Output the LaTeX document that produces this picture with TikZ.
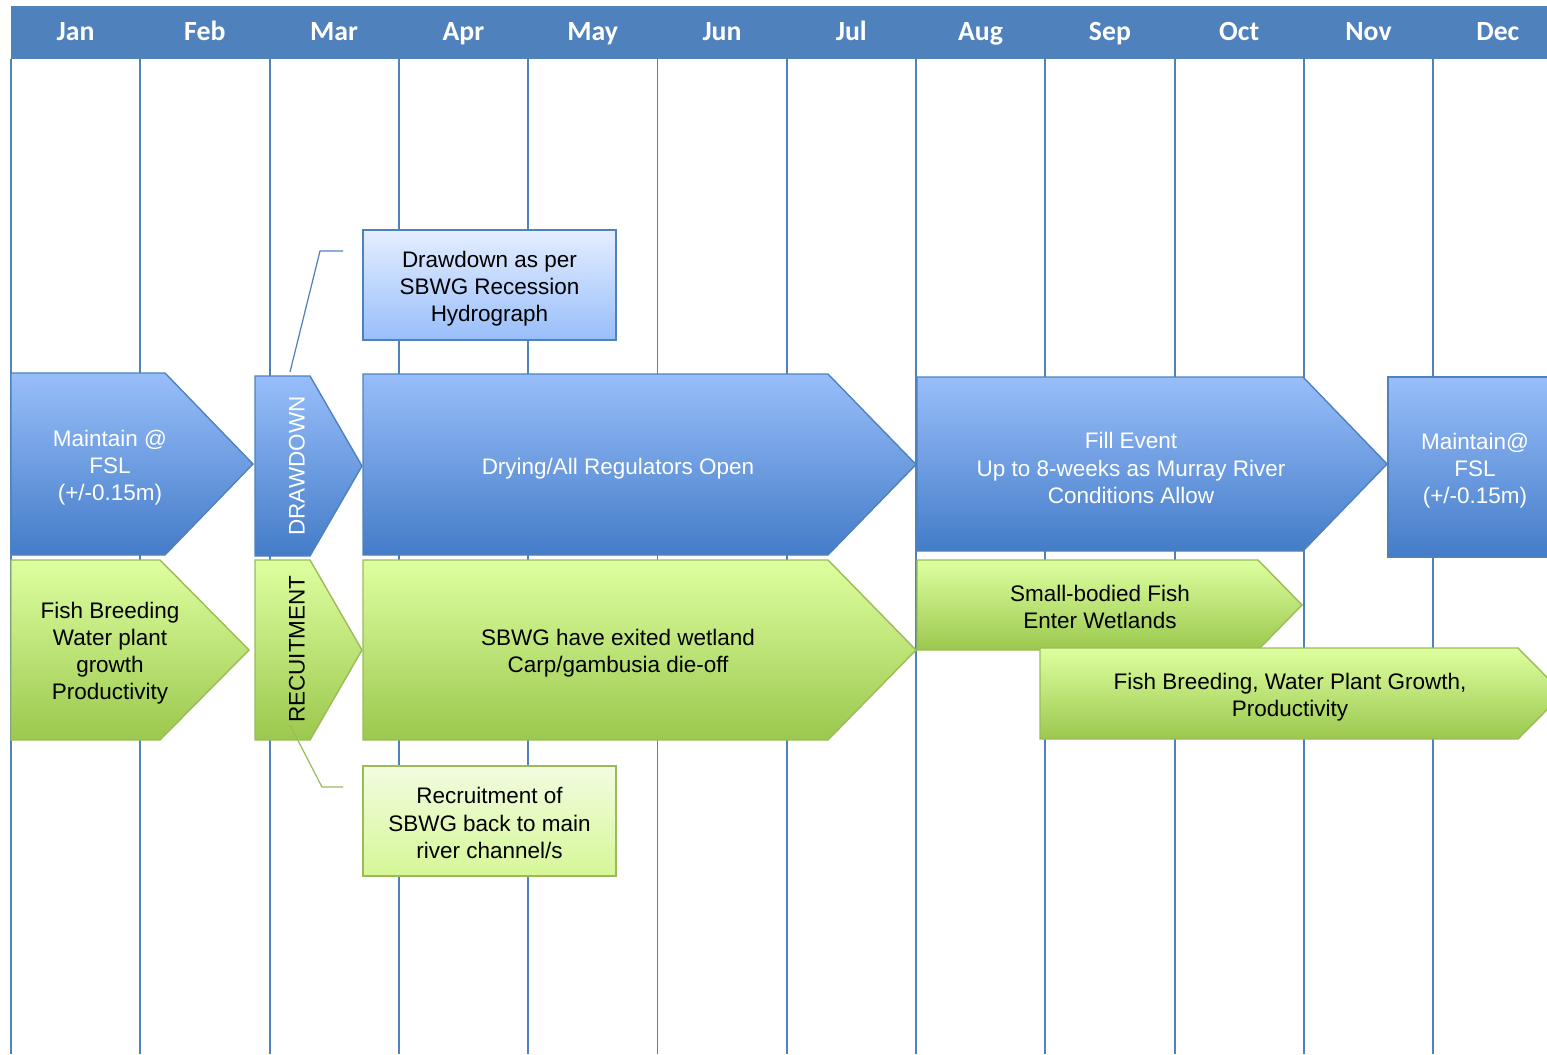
\documentclass[tikz,border=0pt]{standalone}
\usepackage{fontspec}
\setmainfont{Liberation Sans}
\newfontfamily\hdrfont{Carlito}
\definecolor{hdrblue}{RGB}{79,129,189}
\definecolor{bluetop}{RGB}{152,190,250}
\definecolor{bluebot}{RGB}{68,124,200}
\definecolor{blueline}{RGB}{79,129,189}
\definecolor{blueltop}{RGB}{228,238,255}
\definecolor{bluelbot}{RGB}{152,190,250}
\definecolor{greentop}{RGB}{222,255,160}
\definecolor{greenbot}{RGB}{155,200,78}
\definecolor{greenline}{RGB}{155,187,89}
\definecolor{greenltop}{RGB}{242,252,225}
\definecolor{greenlbot}{RGB}{214,247,150}
\tikzset{
    month/.style={text=white, anchor=base, font=\hdrfont\bfseries\fontsize{15.8}{18}\selectfont},
    colline/.style={draw=hdrblue, line width=1.1pt},
    bluearr/.style={draw=blueline, line width=0.8pt, top color=bluetop, bottom color=bluebot},
    greenarr/.style={draw=greenline, line width=0.8pt, top color=greentop, bottom color=greenbot},
    txt/.style={align=center, font=\fontsize{12.8}{15.4}\selectfont},
    wtxt/.style={txt, text=white},
    btxt/.style={txt, text=black},
    bluebox/.style={draw=blueline, line width=0.8pt, top color=blueltop, bottom color=bluelbot,
        minimum width=5.06cm, minimum height=2.2cm},
    greenbox/.style={draw=greenline, line width=0.8pt, top color=greenltop, bottom color=greenlbot,
        minimum width=5.06cm, minimum height=2.2cm},
}
% pentagon arrow: style, left, shoulder, tip, top, bottom
\newcommand{\tagarrow}[6]{\path[#1] (#2,#5) -- (#3,#5) -- (#4,{(#5+#6)/2}) -- (#3,#6) -- (#2,#6) -- cycle;}

\begin{document}
\begin{tikzpicture}[x=0.02cm, y=-0.02cm]
    \useasboundingbox (0,0) rectangle (1547,1054);
    \clip (0,0) rectangle (1547,1054);
    % month header and grid
    \fill[hdrblue] (11,6) rectangle (1560,59);
    \foreach \m [count=\i from 0] in {Jan,Feb,Mar,Apr,May,Jun,Jul,Aug,Sep,Oct,Nov,Dec}{
        \node[month] (m\i) at ({75.5+129.3*\i},41) {\m};
        \draw[colline] ({11+129.3*\i},59) -- ({11+129.3*\i},1054);
    }
    % water level row
    \tagarrow{bluearr}{11}{165}{253}{373}{555}
    \tagarrow{bluearr}{255}{310}{362}{376}{556}
    \tagarrow{bluearr}{363}{828}{916}{374}{555}
    \tagarrow{bluearr}{917}{1303}{1387}{377}{551}
    \tagarrow{bluearr}{1388}{1570}{1570}{377}{557}
    \node[wtxt] (maintainL) at (110,468) {Maintain @\\FSL\\(+/-0.15m)};
    \node[wtxt, rotate=90] (drawdown) at (297,466) {DRAWDOWN};
    \node[wtxt] (drying) at (618,469) {Drying/All Regulators Open};
    \node[wtxt] (fill) at (1131,468) {Fill Event\\Up to 8-weeks as Murray River\\Conditions Allow};
    \node[wtxt] (maintainR) at (1475,471) {Maintain@\\FSL\\(+/-0.15m)};
    % ecology row
    \tagarrow{greenarr}{11}{160}{249}{560}{740}
    \tagarrow{greenarr}{255}{310}{362}{560}{740}
    \tagarrow{greenarr}{363}{828}{916}{560}{740}
    \tagarrow{greenarr}{917}{1258}{1302}{560}{650}
    \tagarrow{greenarr}{1040}{1518}{1563}{648}{739}
    \node[btxt] (breedL) at (110,653) {Fish Breeding\\Water plant\\growth\\Productivity};
    \node[btxt, rotate=90] (recruit) at (297,649) {RECUITMENT};
    \node[btxt] (exited) at (618,653) {SBWG have exited wetland\\Carp/gambusia die-off};
    \node[btxt] (smallfish) at (1100,607) {Small-bodied Fish\\Enter Wetlands};
    \node[btxt] (breedR) at (1290,697) {Fish Breeding, Water Plant Growth,\\Productivity};
    % callouts
    \node[bluebox] (hydro) at (489.5,285) {};
    \node[btxt] (hydrotxt) at (489.5,289) {Drawdown as per\\SBWG Recession\\Hydrograph};
    \node[greenbox] (channel) at (489.5,821) {};
    \node[btxt] (channeltxt) at (489.5,823) {Recruitment of\\SBWG back to main\\river channel/s};
    \coordinate (ddcall) at (343,251);
    \coordinate (ddtip) at (290,372);
    \coordinate (rccall) at (343,787);
    \coordinate (rctip) at (290,725);
    \draw[blueline, line width=0.7pt] (ddcall) -- ++(-23,0) -- (ddtip);
    \draw[greenline, line width=0.7pt] (rccall) -- ++(-21,0) -- (rctip);
\end{tikzpicture}
\end{document}
